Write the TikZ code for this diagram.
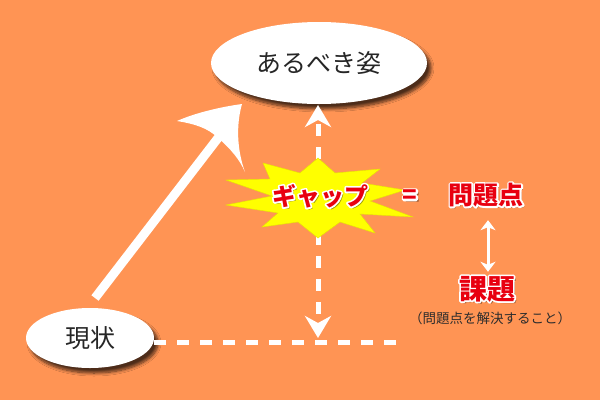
\documentclass[tikz,border=0pt]{standalone}
\usepackage{fontspec}
\newfontfamily\jp{Noto Sans CJK JP}
\usetikzlibrary{arrows.meta,shapes.geometric,calc,shadows.blur}
\definecolor{bg}{RGB}{255,148,84}
\definecolor{jred}{RGB}{232,0,16}
\definecolor{staryel}{RGB}{255,255,0}
\definecolor{subgray}{RGB}{45,45,45}
\tikzset{
  bubble/.style={ellipse, fill=white, inner sep=0pt, text=black!85,
    blur shadow={shadow xshift=4pt, shadow yshift=-5pt, shadow opacity=70, shadow blur steps=8, shadow blur radius=3pt}},
  dashline/.style={white, line width=5pt, dash pattern=on 12pt off 11pt},
  bigtip/.style={-{Stealth[length=22pt, width=26pt, inset=7pt]}},
  dbltip/.style={{Stealth[length=10pt, width=15pt, inset=3pt]}-{Stealth[length=10pt, width=15pt, inset=3pt]}, white, line width=3pt},
}
\newcommand\outlinetext[1]{%
  \rlap{\color{white}\special{pdf:literal direct 1 Tr 3.4 w 1 J 1 j}#1\special{pdf:literal direct 0 Tr 1 w}}%
  \color{jred}#1}
\newcommand\redlabel[5]{%
  \node[inner sep=0pt, font=#4, text=black, opacity=0.4] at (#2+2.4,#3+2.4) {#5};
  \node[inner sep=0pt, font=#4] (#1) at (#2,#3) {\outlinetext{#5}};
}
\begin{document}
\begin{tikzpicture}[x=1pt,y=-1pt]
\fill[bg] (0,0) rectangle (600,400);
\useasboundingbox (0,0) rectangle (600,400);

% ellipses
\node[bubble, minimum width=216pt, minimum height=82pt, font=\jp\fontsize{25}{25}\selectfont] (ideal) at (319,63) {あるべき姿};
\node[bubble, minimum width=128pt, minimum height=60pt, font=\jp\fontsize{25}{25}\selectfont] (now) at (90,338) {現状};

% coordinates
\coordinate (vtop) at (318,105);
\coordinate (vbot) at (318,338);
\coordinate (h1) at (154,342);
\coordinate (h2) at (403,342);
\coordinate (a0) at (95,298);
\coordinate (notch) at (218,138);
\coordinate (tip) at (242,104);
\coordinate (lw) at (177,121);
\coordinate (rw) at (245,172);

% dashed connectors
\draw[dashline] (h1) -- (h2);
\draw[dashline, bigtip, dash phase=6pt] (vbot |- 0,222) -- (vtop);
\draw[dashline, bigtip, dash phase=6pt] (318,170) -- (vbot);

% big arrow
\draw[white, line width=9pt] (a0) -- ($(notch)!-2pt!(a0)$);
\fill[white] (tip) .. controls (220,107) and (195,113) .. (lw)
  .. controls (195,124) and (208,128) .. (notch)
  .. controls (230,148) and (240,160) .. (rw)
  .. controls (237,150) and (236,125) .. (tip) -- cycle;

% starburst
\filldraw[fill=staryel, draw=staryel!90!black, line width=0.4pt]
  (318,158) -- (335,173) -- (380,169) -- (362,183) -- (405,190) -- (370,201)
  -- (413,217) -- (360,214) -- (375,233) -- (340,222) -- (318,238) -- (298,222)
  -- (262,227) -- (278,213) -- (226,205) -- (272,196) -- (226,180) -- (270,179)
  -- (263,163) -- (300,173) -- cycle;

% red labels
\redlabel{gap}{320}{196}{\jp\bfseries\fontsize{24}{24}\selectfont}{ギャップ}
\redlabel{eq}{410}{197}{\jp\bfseries\fontsize{24}{24}\selectfont}{=}
\redlabel{mondai}{486}{195}{\jp\bfseries\fontsize{25}{25}\selectfont}{問題点}
\redlabel{kadai}{487}{289}{\jp\bfseries\fontsize{28}{28}\selectfont}{課題}

\draw[dbltip] ($(mondai.south)+(2,0)$) ++(0,13) coordinate (d1) -- ($(kadai.north)+(1,-4)$) coordinate (d2);

\node[inner sep=0pt, font=\jp\fontsize{13.5}{14}\selectfont, text=subgray] (sub) at (490,318) {（問題点を解決すること）};
\end{tikzpicture}
\end{document}
